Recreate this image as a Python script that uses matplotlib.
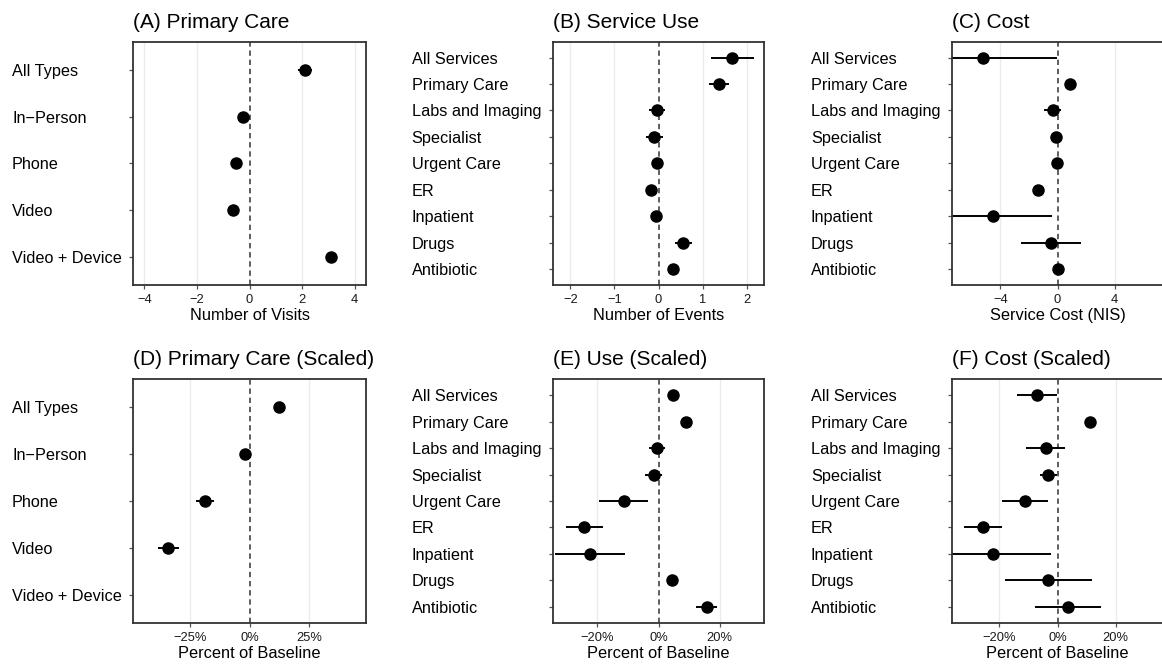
import numpy as np
import matplotlib.pyplot as plt

plt.rcParams['font.family'] = ['Liberation Sans', 'DejaVu Sans']

visit_types = ['All Types', 'In\u2212Person', 'Phone', 'Video', 'Video + Device']
services = ['All Services', 'Primary Care', 'Labs and Imaging', 'Specialist',
            'Urgent Care', 'ER', 'Inpatient', 'Drugs', 'Antibiotic']

# (A) primary care visits
a_est = [2.11, -0.24, -0.52, -0.61, 3.10]
a_lo = [1.85, -0.30, -0.58, -0.66, 3.04]
a_hi = [2.39, -0.18, -0.46, -0.56, 3.16]

# (B) service use, number of events
b_est = [1.67, 1.37, -0.04, -0.11, -0.04, -0.17, -0.05, 0.55, 0.34]
b_lo = [1.20, 1.14, -0.21, -0.29, -0.08, -0.21, -0.09, 0.37, 0.30]
b_hi = [2.16, 1.61, 0.14, 0.10, 0.00, -0.13, -0.01, 0.75, 0.38]

# (C) service cost in NIS
c_est = [-5.22, 0.91, -0.35, -0.14, -0.03, -1.40, -4.49, -0.47, 0.04]
c_lo = [-10.5, 0.80, -0.94, -0.25, -0.12, -1.50, -9.6, -2.55, -0.05]
c_hi = [-0.07, 1.02, 0.28, -0.03, 0.06, -1.30, -0.42, 1.64, 0.13]

# (D) primary care, percent of baseline
d_est = [12.3, -2.0, -18.6, -34.2, np.nan]
d_lo = [11.5, -2.8, -22.3, -38.5, np.nan]
d_hi = [13.1, -1.2, -15.0, -29.7, np.nan]

# (E) use, percent of baseline
e_est = [4.6, 9.15, -0.55, -1.6, -11.3, -24.3, -22.4, 4.35, 15.7]
e_lo = [3.9, 8.4, -3.1, -4.4, -19.3, -30.3, -33.9, 3.7, 12.4]
e_hi = [5.3, 9.9, 2.06, 1.3, -3.4, -18.3, -10.9, 5.0, 19.0]

# (F) cost, percent of baseline
f_est = [-6.9, 11.1, -4.0, -3.3, -11.3, -25.5, -22.2, -3.2, 3.55]
f_lo = [-13.8, 10.4, -10.7, -6.1, -19.0, -32.0, -42.0, -18.1, -7.8]
f_hi = [-0.3, 11.8, 2.6, -0.3, -3.4, -19.1, -2.1, 11.7, 14.8]

panels = [
    ('(A) Primary Care', visit_types, a_est, a_lo, a_hi, 'Number of Visits',
     [-4, -2, 0, 2, 4], ['\u22124', '\u22122', '0', '2', '4'], 4.43),
    ('(B) Service Use', services, b_est, b_lo, b_hi, 'Number of Events',
     [-2, -1, 0, 1, 2], ['\u22122', '\u22121', '0', '1', '2'], 2.4),
    ('(C) Cost', services, c_est, c_lo, c_hi, 'Service Cost (NIS)',
     [-4, 0, 4], ['\u22124', '0', '4'], 7.42),
    ('(D) Primary Care (Scaled)', visit_types, d_est, d_lo, d_hi, 'Percent of Baseline',
     [-25, 0, 25], ['\u221225%', '0%', '25%'], 49.0),
    ('(E) Use (Scaled)', services, e_est, e_lo, e_hi, 'Percent of Baseline',
     [-20, 0, 20], ['\u221220%', '0%', '20%'], 34.6),
    ('(F) Cost (Scaled)', services, f_est, f_lo, f_hi, 'Percent of Baseline',
     [-20, 0, 20], ['\u221220%', '0%', '20%'], 36.4),
]

W, H = 1162, 665
fig = plt.figure(figsize=(W / 100, H / 100), dpi=100)

# panel boxes in pixels: left, top, width, height, label start x
boxes = [
    (133, 41.7, 233, 243.3, 12),
    (552.7, 41.7, 211.6, 243.3, 411.7),
    (951.7, 41.7, 211.6, 243.3, 811),
    (133, 379.3, 233, 243.3, 12),
    (552.7, 379.3, 211.6, 243.3, 411.7),
    (951.7, 379.3, 211.6, 243.3, 811),
]

for (title, cats, est, lo, hi, xlabel, ticks, ticklabels, lim), (l, t, w, h, lab_x) in zip(panels, boxes):
    ax = fig.add_axes([l / W, 1 - (t + h) / H, w / W, h / H])
    n = len(cats)
    y = np.arange(n)
    est = np.array(est, dtype=float)
    lo = np.array(lo, dtype=float)
    hi = np.array(hi, dtype=float)

    for xv in ticks:
        if xv != 0:
            ax.axvline(xv, color='#EBEBEB', lw=1.0, zorder=0)
    ax.axvline(0, color='#333333', lw=1.1, ls=(0, (3.5, 2.5)), zorder=1)

    ax.hlines(y, lo, hi, color='black', lw=1.4, zorder=2)
    ax.plot(est, y, 'o', color='black', ms=8, zorder=3)

    ax.set_xlim(-lim, lim)
    ax.set_ylim(n - 0.4, -0.6)
    ax.set_xticks(ticks)
    ax.set_xticklabels(ticklabels, fontsize=9.3, color='#1a1a1a')
    ax.set_yticks(y)
    ax.set_yticklabels(cats, fontsize=11.7, color='black', ha='left')

    tick_len = 3
    pad_pts = (l - lab_x) * 0.72 - tick_len
    ax.tick_params(axis='y', length=tick_len, width=0.9, color='#555555', pad=pad_pts)
    ax.tick_params(axis='x', length=tick_len, width=0.9, color='#555555', pad=3.5)

    ax.set_xlabel(xlabel, fontsize=11.8, labelpad=1.5)
    ax.set_title(title, loc='left', fontsize=15, pad=10)

    for sp in ax.spines.values():
        sp.set_color('#333333')
        sp.set_linewidth(1.3)

fig.savefig('out.png', dpi=100)
